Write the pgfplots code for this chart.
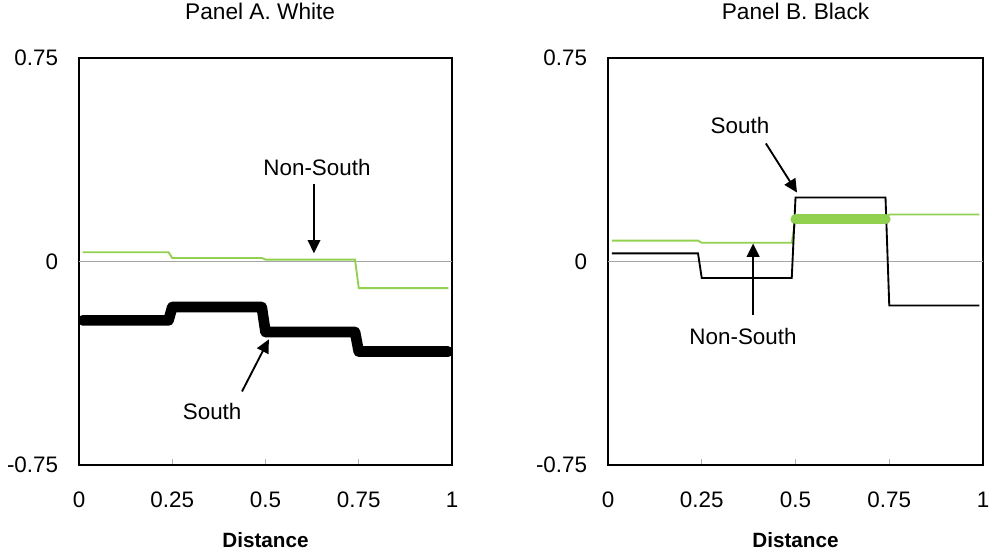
\documentclass[border=0pt]{standalone}
\usepackage{fontspec}
\setmainfont{Liberation Sans}
\usepackage{pgfplots}
\pgfplotsset{compat=1.18}
\usetikzlibrary{arrows.meta}

\definecolor{xlgreen}{RGB}{146,208,80}

\tikzset{
  zero/.style={gray!70, line width=0.6pt},
  arr/.style={line width=1.4pt, -{Triangle[length=10pt,width=9.5pt]}},
  note/.style={font=\fontsize{16.8}{19}\selectfont},
}

\pgfplotsset{
  panel/.style={
    scale only axis,
    height=305.25pt,
    xmin=0, xmax=1, ymin=-0.75, ymax=0.75,
    axis line style={line width=1.3pt},
    xtick={0,0.25,0.5,0.75,1}, xticklabels={0,0.25,0.5,0.75,1},
    ytick={-0.75,0,0.75}, yticklabels={-0.75,0,0.75},
    tick align=inside, xtick pos=bottom, ytick pos=left,
    major tick length=4.5pt,
    x tick style={gray!60, line width=0.6pt},
    y tick style={draw=none},
    ticklabel style={font=\fontsize{16.8}{19}\selectfont},
    yticklabel style={anchor=east, inner sep=0pt, xshift=-15.5pt},
    xticklabel style={anchor=center, inner sep=0pt, yshift=-26.25pt},
    xlabel style={font=\bfseries\fontsize{15.5}{18}\selectfont,
      at={(axis description cs:0.5,0)}, anchor=center, yshift=-56.25pt},
    title style={font=\fontsize{17}{20}\selectfont,
      at={(axis description cs:0.5,1)}, anchor=center, yshift=29pt},
    xlabel={Distance},
  },
}

\begin{document}
\begin{tikzpicture}
\path[use as bounding box] (0,0) rectangle (744pt,416.25pt);

% Panel A
\begin{axis}[panel, at={(59.25pt,67.5pt)}, anchor=south west, width=279.75pt,
  title={Panel A. White}, title style={xshift=-4pt}]
\addplot[zero] coordinates {(0,0) (1,0)};
% Non-South
\addplot[xlgreen, line width=1.4pt] coordinates {
  (0.01,0.034) (0.24,0.034) (0.25,0.013) (0.49,0.013)
  (0.50,0.007) (0.74,0.007) (0.75,-0.098) (0.99,-0.098)};
% South
\addplot[black, line width=8pt, line join=round, line cap=round] coordinates {
  (0.01,-0.217) (0.24,-0.217) (0.25,-0.168) (0.49,-0.168)
  (0.50,-0.260) (0.74,-0.260) (0.75,-0.332) (0.99,-0.332)};
\draw[arr] (axis cs:0.630,0.287) -- (axis cs:0.630,0.030);
\node[note] at (axis cs:0.638,0.346) {Non-South};
\draw[arr] (axis cs:0.437,-0.479) -- (axis cs:0.509,-0.287);
\node[note] at (axis cs:0.357,-0.553) {South};
\end{axis}

% Panel B
\begin{axis}[panel, at={(456pt,67.5pt)}, anchor=south west, width=281.25pt,
  title={Panel B. Black}]
\addplot[zero] coordinates {(0,0) (1,0)};
% Non-South
\addplot[xlgreen, line width=1.4pt] coordinates {
  (0.01,0.077) (0.24,0.077) (0.25,0.069) (0.49,0.069)
  (0.50,0.155) (0.74,0.155) (0.75,0.173) (0.99,0.173)};
% South
\addplot[black, line width=1.4pt] coordinates {
  (0.01,0.030) (0.24,0.030) (0.25,-0.061) (0.49,-0.061)
  (0.50,0.236) (0.74,0.236) (0.75,-0.162) (0.99,-0.162)};
% highlighted Non-South segment
\addplot[xlgreen, line width=7.5pt, line cap=round] coordinates {
  (0.50,0.155) (0.74,0.155)};
\draw[arr] (axis cs:0.421,0.435) -- (axis cs:0.504,0.254);
\node[note] at (axis cs:0.352,0.501) {South};
\draw[arr] (axis cs:0.387,-0.199) -- (axis cs:0.387,0.066);
\node[note] at (axis cs:0.360,-0.276) {Non-South};
\end{axis}
\end{tikzpicture}
\end{document}
